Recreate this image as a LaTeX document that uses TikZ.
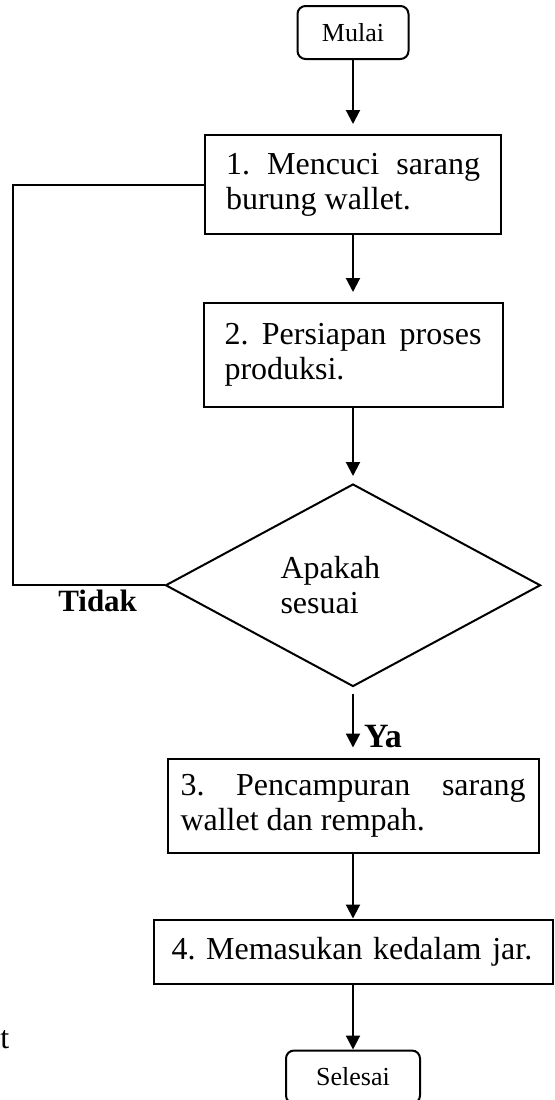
\documentclass[tikz,border=0pt]{standalone}
\usepackage{fontspec}
\setmainfont{Liberation Serif}
\usepackage{tikz}
\usetikzlibrary{arrows.meta,positioning,shapes.geometric}
\hyphenpenalty=10000
\tolerance=10000
\frenchspacing

\begin{document}
\begin{tikzpicture}[
  x=0.5pt, y=-0.5pt,
  font=\fontsize{16}{17.5}\selectfont,
  box/.style={rectangle,draw=black,line width=1pt,inner xsep=10.5pt,
              inner ysep=0pt,align=justify},
  terminal/.style={rectangle,rounded corners=4pt,draw=black,line width=1pt,
                   minimum width=55.5pt,minimum height=26.5pt,
                   font=\fontsize{13}{15}\selectfont},
  decision/.style={diamond,draw=black,line width=1pt,inner sep=0pt,
                   minimum width=187.5pt,minimum height=97pt,
                   text width=72.5pt,align=left},
  arr/.style={-{Triangle[length=7pt,width=7pt]},line width=1pt,shorten >=5pt},
  back/.style={line width=1pt},
  jawab/.style={font=\fontsize{15.5}{17}\bfseries\selectfont,inner sep=2pt},
]
\useasboundingbox (0,0) rectangle (554,1100);

\node[terminal] (mulai) at (353,32.5) {Mulai};
\node[box,text width=127pt,minimum height=49.5pt,below=37pt of mulai] (cuci)
  {1. Mencuci sarang burung wallet.};
\node[box,text width=128.5pt,minimum height=52pt,below=33.5pt of cuci] (siap)
  {2. Persiapan proses produksi.};
\node[decision,below=37.5pt of siap] (cek) {Apakah\\sesuai};
\node[box,text width=172.5pt,minimum height=47pt,inner xsep=6.5pt,
      below=35pt of cek] (campur) {3. Pencampuran sarang wallet dan rempah.};
\node[box,text width=181.5pt,minimum height=32pt,inner xsep=9pt,align=left,
      below=32.5pt of campur] (masuk) {4. Memasukan kedalam jar.};
\node[terminal,minimum width=67pt,below=32.5pt of masuk] (selesai) {Selesai};
\node[anchor=base west,inner sep=0pt] (sisa) at (0,1048) {t};

\draw[arr] (mulai) -- (cuci);
\draw[arr] (cuci) -- (siap);
\draw[arr,shorten >=3.5pt] (siap) -- (cek);
\draw[arr,shorten <=3pt] (cek) -- node[jawab,right=3pt,pos=0.7,
  font=\fontsize{17}{19}\bfseries\selectfont]{Ya} (campur);
\draw[arr,shorten >=0pt] (campur) -- (masuk);
\draw[arr,shorten >=0pt] (masuk) -- (selesai);
\draw[back] (cek.west) -- node[jawab,below,pos=0.44]{Tidak} ++(-152,0) |- (cuci.west);

\end{tikzpicture}
\end{document}
